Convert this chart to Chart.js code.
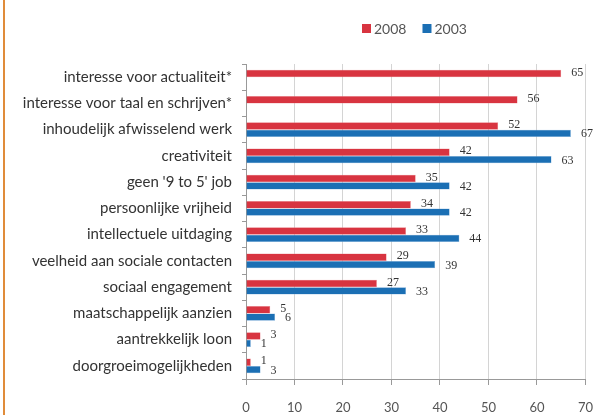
<!DOCTYPE html>
<html>
<head>
    <title>Motivatie</title>
    <script src="https://cdn.jsdelivr.net/npm/chart.js"></script>
    <style>
        body { margin: 0; background: #fff; }
        #wrap { position: relative; width: 608px; height: 415px; }
        #edge { position: absolute; left: 3px; top: 0; width: 2px; height: 415px; background: #e08c3a; }
    </style>
</head>
<body>
    <div id="wrap">
        <canvas id="barChart" width="608" height="415"></canvas>
        <div id="edge"></div>
    </div>

    <script>
        var categories = [
            "interesse voor actualiteit*",
            "interesse voor taal en schrijven*",
            "inhoudelijk afwisselend werk",
            "creativiteit",
            "geen '9 to 5' job",
            "persoonlijke vrijheid",
            "intellectuele uitdaging",
            "veelheid aan sociale contacten",
            "sociaal engagement",
            "maatschappelijk aanzien",
            "aantrekkelijk loon",
            "doorgroeimogelijkheden"
        ];
        var values2008 = [65, 56, 52, 42, 35, 34, 33, 29, 27, 5, 3, 1];
        var values2003 = [null, null, 67, 63, 42, 42, 44, 39, 33, 6, 1, 3];
        var xTicks = [0, 10, 20, 30, 40, 50, 60, 70];

        var labelFont = "Lato";

        // value labels next to the bars + legend on top of the plot
        var extras = {
            id: "extras",
            afterDatasetsDraw: function (chart) {
                var ctx = chart.ctx;
                ctx.save();
                ctx.font = "12px 'Liberation Serif'";
                ctx.fillStyle = "#333";
                ctx.textBaseline = "middle";
                ctx.textAlign = "left";
                chart.data.datasets.forEach(function (ds, i) {
                    var meta = chart.getDatasetMeta(i);
                    meta.data.forEach(function (bar, j) {
                        if (ds.data[j] == null) return;
                        var dy = i === 0 ? -1 : 1;
                        ctx.fillText(ds.data[j], bar.x + 10, bar.y + dy);
                    });
                });

                // legend
                var x = 362, y = 28;
                ctx.font = "14px " + labelFont;
                chart.data.datasets.forEach(function (ds) {
                    ctx.fillStyle = ds.backgroundColor;
                    ctx.fillRect(x, y - 4, 9, 9);
                    ctx.fillStyle = "#555";
                    ctx.fillText(ds.label, x + 12, y + 1);
                    x += 12 + ctx.measureText(ds.label).width + 16;
                });
                ctx.restore();
            }
        };

        new Chart("barChart", {
            type: "bar",
            data: {
                labels: categories,
                datasets: [{
                    label: "2008",
                    backgroundColor: "#d83440",
                    borderColor: "#ec8a90",
                    borderWidth: 0.5,
                    data: values2008
                }, {
                    label: "2003",
                    backgroundColor: "#1b6fb4",
                    borderColor: "#7fb0dc",
                    borderWidth: 0.5,
                    data: values2003
                }]
            },
            options: {
                indexAxis: "y",
                responsive: false,
                animation: false,
                layout: { padding: { left: 0, right: 20, top: 64, bottom: 0 } },
                categoryPercentage: 0.56,
                barPercentage: 1,
                plugins: {
                    legend: { display: false },
                    tooltip: { enabled: false }
                },
                scales: {
                    x: {
                        min: 0,
                        max: 70,
                        afterBuildTicks: function (s) {
                            s.ticks = xTicks.map(function (v) { return { value: v }; });
                        },
                        afterFit: function (s) { s.height = 36; },
                        grid: { color: "#d4d4d4", tickLength: 6, tickColor: "#999" },
                        border: { color: "#999" },
                        ticks: { color: "#555", padding: 15, font: { family: labelFont, size: 13 } }
                    },
                    y: {
                        afterFit: function (s) { s.width = 246; },
                        grid: { display: true, drawOnChartArea: false, tickLength: 4, tickColor: "#999" },
                        border: { color: "#999" },
                        ticks: { color: "#333", padding: 10, autoSkip: false, font: { family: labelFont, size: 15 } }
                    }
                }
            },
            plugins: [extras]
        });
    </script>
</body>
</html>
